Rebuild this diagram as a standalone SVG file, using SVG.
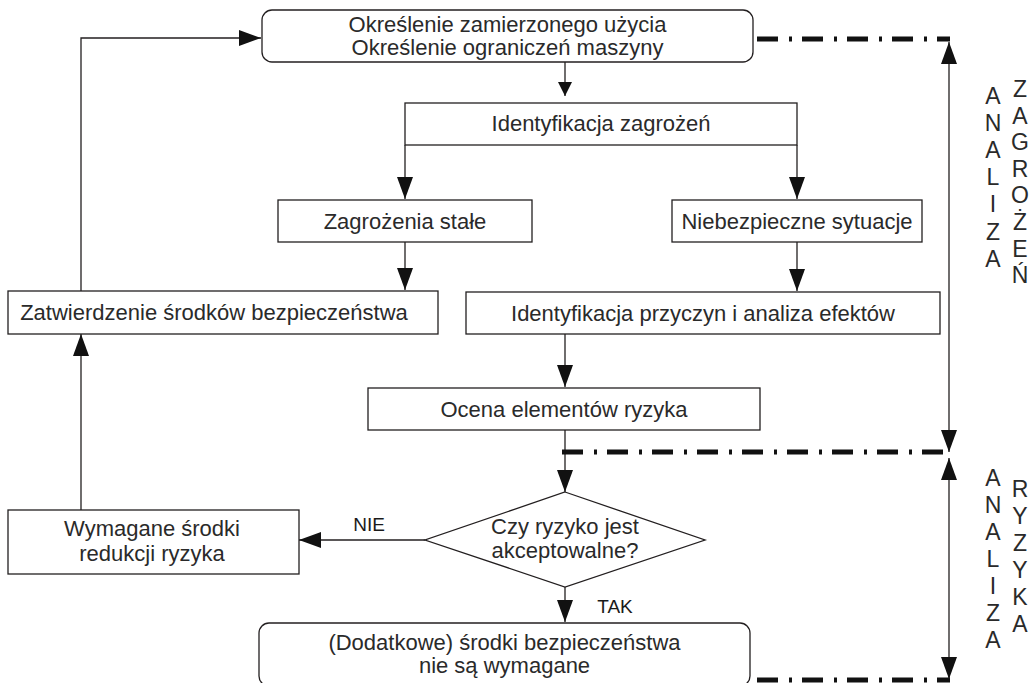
<svg xmlns="http://www.w3.org/2000/svg" width="1033" height="683" viewBox="0 0 1033 683">
<style>
.box{fill:#fff;stroke:#231f20;stroke-width:1.3}
.t{font-family:"Liberation Sans",Arial,sans-serif;font-size:22px;fill:#2a2a2a;text-anchor:middle}
.lbl{font-family:"Liberation Sans",Arial,sans-serif;font-size:19px;fill:#1a1a1a;text-anchor:middle}
.side{font-family:"Liberation Sans",Arial,sans-serif;font-size:23px;fill:#2a2a2a;text-anchor:middle}
.c{fill:none;stroke:#231f20;stroke-width:1.3}
.dd{fill:none;stroke:#111;stroke-width:5;stroke-dasharray:21 11 3 10}
</style>
<defs>
<marker id="ah" markerUnits="userSpaceOnUse" markerWidth="22" markerHeight="16" refX="22" refY="8" orient="auto-start-reverse">
<path d="M0,0 L22,8 L0,16 z" fill="#111"/>
</marker>
<marker id="ahs" markerUnits="userSpaceOnUse" markerWidth="14" markerHeight="14" refX="14" refY="7" orient="auto">
<path d="M0,0 L14,7 L0,14 z" fill="#111"/>
</marker>
</defs>

<g id="connectors">
<path class="c" d="M565,62 V96" marker-end="url(#ahs)"/>
<path class="c" d="M405,145 V199" marker-end="url(#ah)"/>
<path class="c" d="M797,145 V199" marker-end="url(#ah)"/>
<path class="c" d="M405,242 V290" marker-end="url(#ah)"/>
<path class="c" d="M797,242 V291" marker-end="url(#ah)"/>
<path class="c" d="M565,334 V387" marker-end="url(#ah)"/>
<path class="c" d="M565,430 V492" marker-end="url(#ah)"/>
<path class="c" d="M425,540 H299" marker-end="url(#ah)"/>
<path class="c" d="M565,587 V622" marker-end="url(#ah)"/>
<path class="c" d="M81,510 V334" marker-end="url(#ah)"/>
<path class="c" d="M81,291 V38 H261" marker-end="url(#ah)"/>
<path class="dd" d="M757,39 H950"/>
<path class="dd" d="M562,452 H950"/>
<path class="dd" d="M757,680 H950"/>
<path class="c" d="M949,42 V452" marker-start="url(#ah)" marker-end="url(#ah)"/>
<path class="c" d="M949,458 V679" marker-start="url(#ah)" marker-end="url(#ah)"/>
<text class="lbl" x="369" y="531">NIE</text>
<text class="lbl" x="615" y="613">TAK</text>
</g>

<g id="n-start">
<rect class="box" x="262" y="10" width="491" height="52" rx="10"/>
<text class="t" x="507.5" y="32">Określenie zamierzonego użycia</text>
<text class="t" x="507.5" y="55">Określenie ograniczeń maszyny</text>
</g>
<g id="n-ident">
<rect class="box" x="405" y="103" width="392" height="42"/>
<text class="t" x="601" y="131">Identyfikacja zagrożeń</text>
</g>
<g id="n-stale">
<rect class="box" x="278" y="200" width="254" height="42"/>
<text class="t" x="405" y="229">Zagrożenia stałe</text>
</g>
<g id="n-sytuacje">
<rect class="box" x="672" y="200" width="250" height="42"/>
<text class="t" x="797" y="229">Niebezpieczne sytuacje</text>
</g>
<g id="n-zatw">
<rect class="box" x="8" y="291" width="430" height="43"/>
<text class="t" x="214" y="320">Zatwierdzenie środków bezpieczeństwa</text>
</g>
<g id="n-przyczyn">
<rect class="box" x="466" y="292" width="474" height="42"/>
<text class="t" x="703" y="321">Identyfikacja przyczyn i analiza efektów</text>
</g>
<g id="n-ocena">
<rect class="box" x="368" y="388" width="392" height="42"/>
<text class="t" x="564" y="417">Ocena elementów ryzyka</text>
</g>
<g id="n-decyzja">
<polygon class="box" points="565,492 705,540 565,587 425,540"/>
<text class="t" x="565" y="534">Czy ryzyko jest</text>
<text class="t" x="565" y="558">akceptowalne?</text>
</g>
<g id="n-wymagane">
<rect class="box" x="8" y="510" width="291" height="64"/>
<text class="t" x="152" y="536">Wymagane środki</text>
<text class="t" x="152" y="561">redukcji ryzyka</text>
</g>
<g id="n-koniec">
<rect class="box" x="259" y="623" width="491" height="63" rx="10"/>
<text class="t" x="504.5" y="650">(Dodatkowe) środki bezpieczeństwa</text>
<text class="t" x="504.5" y="673">nie są wymagane</text>
</g>

<g id="labels">
<text class="side" x="993" y="104">A</text>
<text class="side" x="993" y="131">N</text>
<text class="side" x="993" y="158">A</text>
<text class="side" x="993" y="185">L</text>
<text class="side" x="993" y="212">I</text>
<text class="side" x="993" y="240">Z</text>
<text class="side" x="993" y="267">A</text>
<text class="side" x="1020" y="97">Z</text>
<text class="side" x="1020" y="124">A</text>
<text class="side" x="1020" y="150">G</text>
<text class="side" x="1020" y="177">R</text>
<text class="side" x="1020" y="203">O</text>
<text class="side" x="1020" y="230">Ż</text>
<text class="side" x="1020" y="257">E</text>
<text class="side" x="1020" y="283">Ń</text>
<text class="side" x="993" y="486">A</text>
<text class="side" x="993" y="513">N</text>
<text class="side" x="993" y="540">A</text>
<text class="side" x="993" y="567">L</text>
<text class="side" x="993" y="594">I</text>
<text class="side" x="993" y="621">Z</text>
<text class="side" x="993" y="648">A</text>
<text class="side" x="1020" y="497">R</text>
<text class="side" x="1020" y="524">Y</text>
<text class="side" x="1020" y="551">Z</text>
<text class="side" x="1020" y="578">Y</text>
<text class="side" x="1020" y="605">K</text>
<text class="side" x="1020" y="632">A</text>
</g>
</svg>
